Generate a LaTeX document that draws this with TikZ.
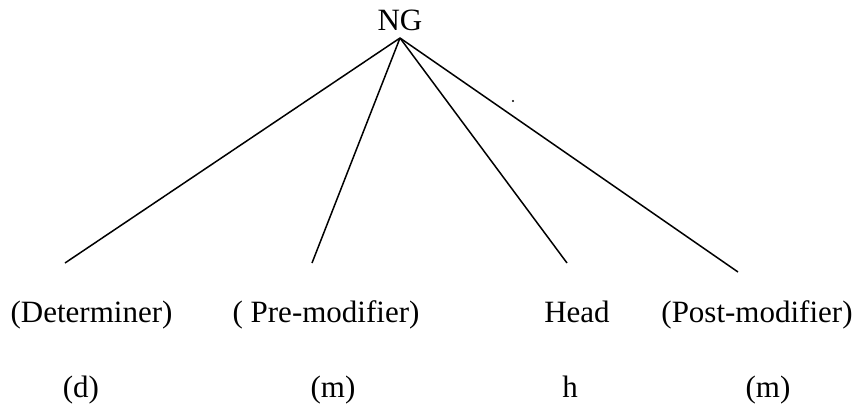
\documentclass[tikz,border=0pt]{standalone}
\usepackage{fontspec}
\setmainfont{Liberation Serif}
\begin{document}
\begin{tikzpicture}[x=1pt,y=-1pt,
  lbl/.style={anchor=base,inner sep=0pt,font=\fontsize{31}{36}\selectfont},
  branch/.style={line width=1.5pt}]
  \useasboundingbox (0,0) rectangle (860,408);
  % root
  \node[lbl] (ng) at (400,30) {NG};
  \coordinate (top) at (400,38);
  % branch ends
  \coordinate (e1) at (65,263);
  \coordinate (e2) at (312,263);
  \coordinate (e3) at (567,263);
  \coordinate (e4) at (738,272);
  \foreach \e in {e1,e2,e3,e4} \draw[branch] (top) -- (\e);
  % stray full stop
  \fill (513,101) circle (1.1pt);
  % constituent names
  \node[lbl] (det)  at (91.5,322) {(Determiner)};
  \node[lbl] (pre)  at (326,322)  {( Pre-modifier)};
  \node[lbl] (head) at (577,322)  {Head};
  \node[lbl] (post) at (757,322)  {(Post-modifier)};
  % function symbols
  \node[lbl] (sd) at (81,397)  {(d)};
  \node[lbl] (sm) at (333,397) {(m)};
  \node[lbl] (sh) at (570,397) {h};
  \node[lbl] (sq) at (768,397) {(m)};
\end{tikzpicture}
\end{document}
